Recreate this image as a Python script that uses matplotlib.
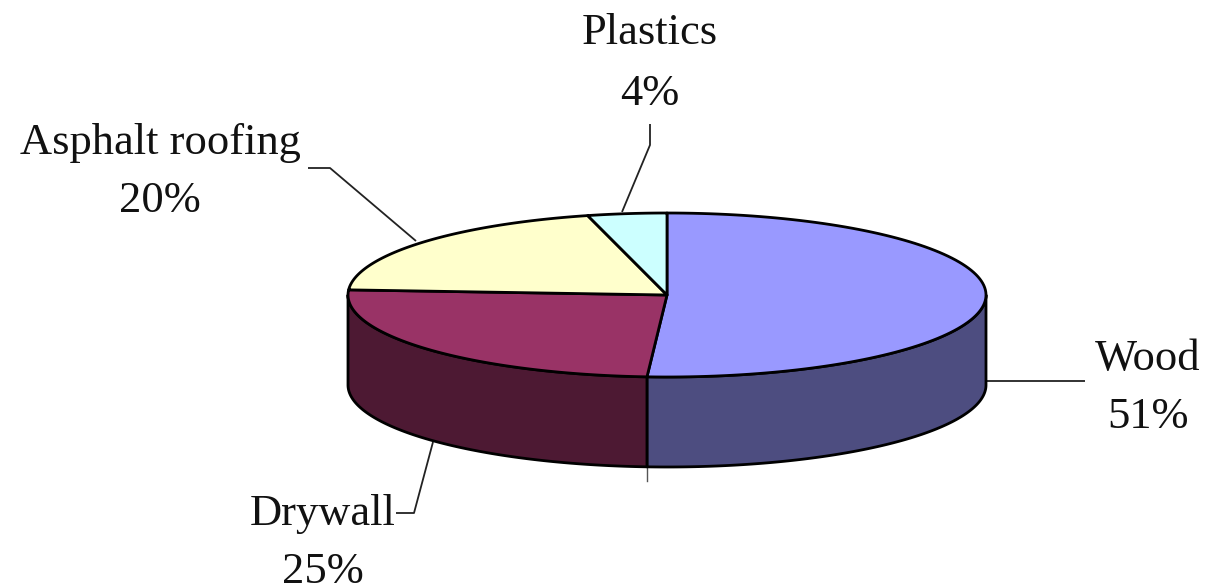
import matplotlib
matplotlib.use("Agg")
import matplotlib.pyplot as plt
import numpy as np
from matplotlib.patches import Polygon

categories = ["Wood", "Drywall", "Asphalt roofing", "Plastics"]
shares = [51, 25, 20, 4]
top_colors = ["#9999FF", "#993366", "#FFFFCC", "#CCFFFF"]
side_colors = ["#4D4D80", "#4D1933"]

# pie geometry, in pixels
CX, CY = 667, 295
RX, RY = 319, 82
DEPTH = 90

# label x, then baselines of the name and the percentage
label_pos = {
    "Wood": (1148, 370, 428),
    "Drywall": (323, 525, 583),
    "Asphalt roofing": (160, 154, 212),
    "Plastics": (650, 44, 105),
}
leaders = [
    ([985, 1085], [381, 381]),
    ([433, 414, 396], [442, 513, 513]),
    ([416, 330, 308], [241, 168, 168]),
    ([622, 650, 650], [212, 145, 124]),
]


def rim(a0, a1, n=120):
    t = np.radians(np.linspace(a0, a1, n))
    return CX + RX * np.cos(t), CY - RY * np.sin(t)


fig = plt.figure(figsize=(12.08, 5.85), dpi=100)
ax = fig.add_axes([0, 0, 1, 1])
ax.set_xlim(0, 1208)
ax.set_ylim(585, 0)
ax.axis("off")

# slices run clockwise from twelve o'clock
edges = 90 - 360 * np.cumsum([0] + shares) / sum(shares)

# leaders go under the pie
for xs, ys in leaders:
    ax.plot(xs, ys, color="#222222", lw=1.3, zorder=1, solid_capstyle="butt")
# thin tick below the wood/drywall seam
seam_x = rim(edges[1], edges[1], 1)[0][0]
ax.plot([seam_x, seam_x], [CY + RY + DEPTH, CY + RY + DEPTH + 14], color="#555555", lw=1, zorder=1)

# outer wall, only the front half of the rim is visible
for i, color in enumerate(side_colors):
    a0 = edges[i] if i == 1 else 0
    a1 = max(edges[i + 1], -180)
    xs, ys = rim(a0, a1)
    pts = np.r_[np.c_[xs, ys], np.c_[xs[::-1], ys[::-1] + DEPTH]]
    ax.add_patch(Polygon(pts, closed=True, fc=color, ec="black", lw=2, joinstyle="round", zorder=2))

# top face
for i, color in enumerate(top_colors):
    xs, ys = rim(edges[i], edges[i + 1])
    pts = np.r_[[[CX, CY]], np.c_[xs, ys]]
    ax.add_patch(Polygon(pts, closed=True, fc=color, ec="black", lw=2, joinstyle="round", zorder=3))

for name, share in zip(categories, shares):
    x, y0, y1 = label_pos[name]
    ax.text(x, y0, name, family="Liberation Serif", fontsize=32, color="#111111",
            ha="center", va="baseline")
    ax.text(x, y1, f"{share}%", family="Liberation Serif", fontsize=32, color="#111111",
            ha="center", va="baseline")

fig.savefig("out.png", dpi=100)
plt.close()
